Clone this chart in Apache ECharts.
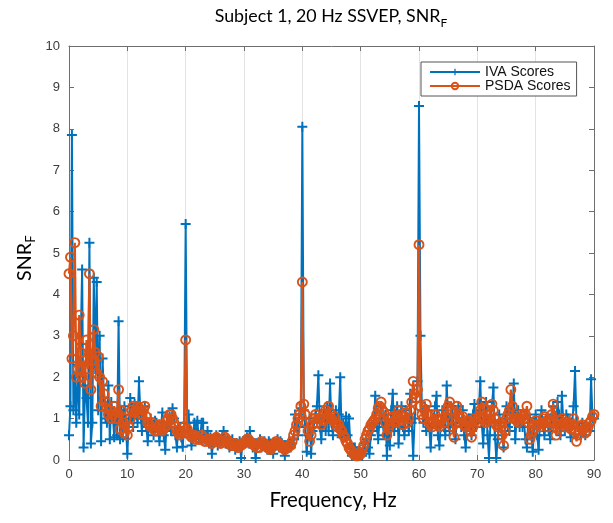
<!DOCTYPE html>
<html><head><meta charset="utf-8">
<script src="https://cdn.jsdelivr.net/npm/echarts@6/dist/echarts.min.js"></script>
<style>html,body{margin:0;padding:0;background:#fff}#c{width:613px;height:523px}</style>
</head><body><div id="c"></div>
<script>
// Frequency grid (Hz)
const freqStart = 0, freqStep = 0.25;
const xTickValues = [0,10,20,30,40,50,60,70,80,90];
const yTickValues = [0,1,2,3,4,5,6,7,8,9,10];
const seriesNames = ['IVA Scores', 'PSDA Scores'];

const ivaScores = [
  0.6,1.3,7.85,1.2,2.0,0.9,2.3,1.1,2.8,4.6,0.3,1.8,1.5,0.9,5.25,0.4,0.9,4.4,2.2,4.3,
  1.2,3.0,0.45,2.45,1.5,1.0,0.9,1.8,0.5,1.4,1.1,0.55,1.0,0.6,3.35,0.5,1.2,0.55,1.3,0.8,
  0.15,0.9,1.5,1.0,0.8,1.35,1.2,0.9,1.9,1.1,0.7,1.2,1.3,0.8,0.45,0.9,1.0,0.75,0.6,0.95,
  0.9,0.7,0.45,0.8,1.15,0.6,0.25,0.9,0.8,1.05,0.7,1.25,1.0,0.6,0.3,0.8,0.7,0.55,0.32,0.9,
  5.7,0.9,1.1,0.7,0.35,0.6,0.9,0.7,0.95,0.5,0.6,0.9,0.9,0.6,0.5,0.7,0.4,0.55,0.15,0.45,
  0.5,0.6,0.35,0.5,0.45,0.55,0.7,0.45,0.4,0.5,0.3,0.45,0.5,0.4,0.25,0.4,0.35,0.45,0.05,0.4,
  0.4,0.5,0.55,0.45,0.7,0.45,0.3,0.4,0.05,0.35,0.4,0.5,0.3,0.4,0.45,0.35,0.25,0.45,0.4,0.3,
  0.15,0.4,0.35,0.5,0.3,0.45,0.4,0.25,0.1,0.3,0.35,0.45,0.3,0.4,0.5,1.1,0.8,0.6,1.1,1.25,
  8.05,1.2,0.8,0.2,0.6,1.0,0.15,0.7,0.9,1.1,1.3,2.05,0.8,0.5,1.0,1.2,0.7,1.3,0.7,1.85,
  0.9,0.6,1.0,1.2,0.8,1.1,2.0,0.55,0.9,0.7,1.05,0.6,1.0,0.35,0.1,0.3,0.3,0.15,0.2,0.1,
  0.2,0.1,0.25,0.4,0.5,0.3,0.15,0.6,0.7,0.9,1.55,0.8,0.5,1.0,1.3,0.9,0.6,1.1,0.1,0.8,
  0.35,1.2,1.6,0.7,0.9,1.3,0.4,1.0,1.3,0.8,0.6,1.2,1.0,0.7,1.6,0.9,0.1,1.0,1.4,1.9,
  8.55,3.0,1.2,0.9,1.3,0.7,1.2,0.8,0.3,0.9,1.0,1.3,1.55,0.6,0.35,0.9,1.2,0.8,0.6,1.8,
  1.0,0.7,1.3,1.1,0.8,0.5,1.0,1.3,0.9,0.8,1.2,0.6,0.3,0.9,1.0,0.7,0.6,1.1,1.35,0.8,
  0.9,1.2,1.9,0.9,0.4,1.0,1.4,0.6,0.05,0.9,1.3,1.75,0.6,0.05,0.5,1.1,0.9,0.6,0.3,1.0,
  1.3,0.8,0.7,1.2,1.15,1.85,0.5,1.0,1.2,0.8,1.1,0.8,0.9,0.5,0.3,1.0,1.0,0.6,0.2,0.8,
  1.1,0.6,0.25,0.9,1.2,0.8,0.6,1.0,1.0,0.7,0.5,1.1,1.3,0.9,0.8,1.4,1.1,0.6,1.55,0.9,
  0.7,1.1,1.0,0.8,0.55,0.9,1.3,2.15,0.9,0.8,0.8,0.6,0.9,0.7,0.6,0.8,0.8,0.7,1.95,1.0,
  1.0
];
const psdaScores = [
  4.5,4.9,2.45,3.0,5.25,2.0,2.2,3.5,2.6,2.0,2.4,1.85,2.9,2.2,4.5,1.7,2.4,3.15,2.6,2.1,
  2.5,2.0,1.3,1.9,1.6,1.4,1.25,1.1,1.2,1.0,1.1,1.3,1.0,1.15,1.7,0.75,1.2,0.9,0.65,1.0,
  0.6,0.8,1.0,1.2,1.3,1.15,1.2,1.3,1.25,1.1,1.1,1.2,1.3,1.05,0.9,0.85,0.8,0.9,0.75,0.7,
  0.7,0.8,0.85,0.75,0.7,0.75,0.8,0.95,1.0,1.1,1.1,1.0,0.9,0.8,0.7,0.65,0.6,0.65,0.7,0.8,
  2.9,0.75,0.65,0.6,0.55,0.6,0.6,0.5,0.55,0.5,0.5,0.6,0.55,0.45,0.45,0.5,0.5,0.45,0.4,0.5,
  0.45,0.55,0.5,0.45,0.4,0.45,0.45,0.55,0.5,0.45,0.4,0.35,0.35,0.4,0.4,0.35,0.3,0.35,0.35,0.4,
  0.4,0.45,0.5,0.5,0.45,0.4,0.4,0.35,0.35,0.3,0.3,0.4,0.45,0.4,0.4,0.35,0.3,0.3,0.25,0.3,
  0.35,0.4,0.45,0.4,0.4,0.35,0.3,0.3,0.25,0.3,0.3,0.35,0.35,0.45,0.6,0.7,0.85,1.0,1.1,1.3,
  4.3,1.35,1.1,0.9,0.7,0.45,0.6,0.85,1.0,1.1,0.9,1.0,1.0,0.85,0.95,1.1,1.2,1.0,1.3,1.15,
  1.0,0.95,1.05,0.9,0.8,0.85,0.75,0.7,0.6,0.55,0.45,0.4,0.3,0.25,0.2,0.15,0.12,0.1,0.1,0.12,
  0.15,0.25,0.35,0.5,0.6,0.7,0.75,0.85,0.9,0.95,1.0,1.1,1.25,1.3,1.4,1.2,1.15,0.9,0.6,0.75,
  0.85,1.0,1.05,0.95,0.9,1.05,1.2,1.1,0.95,0.85,1.05,1.15,0.9,1.0,1.2,1.4,1.9,1.6,1.5,1.7,
  5.2,1.3,1.1,1.0,1.2,1.35,1.1,0.9,0.85,0.8,0.95,1.1,1.0,0.85,0.8,0.95,1.0,0.9,1.05,1.2,
  1.3,1.4,1.2,0.8,0.55,0.9,1.3,1.1,0.9,1.0,1.05,0.85,0.8,0.9,0.95,0.7,0.55,0.8,1.0,0.95,
  0.9,1.05,1.2,1.4,1.25,1.0,0.9,0.95,1.0,1.1,1.35,1.2,1.0,0.85,0.8,0.85,0.9,0.6,0.35,0.7,
  1.0,1.1,1.2,1.7,1.3,1.0,1.0,0.95,0.9,1.0,1.1,1.05,1.0,1.1,1.3,0.9,0.5,0.6,0.7,0.85,
  0.95,0.85,0.85,0.8,0.9,1.0,1.05,0.9,0.8,0.9,0.95,1.1,1.35,0.9,0.6,0.75,0.85,0.95,1.0,0.9,
  0.8,0.85,0.9,0.8,0.75,0.85,1.0,0.7,0.45,0.6,0.7,0.8,0.85,0.75,0.65,0.7,0.8,0.9,0.95,1.05,
  1.1
];

const freqs = ivaScores.map((_, i) => freqStart + i * freqStep);
const ivaData = freqs.map((f, i) => [f, ivaScores[i]]);
const psdaData = freqs.map((f, i) => [f, psdaScores[i]]);

const BLUE = '#0072BD', ORANGE = '#D95319';
const AXIS = '#6e6e6e', LABEL = '#3c3c3c';
const plusPath = 'path://M4,0H6V4H10V6H6V10H4V6H0V4H4Z';
const labelFont = 'Lato';

function measure(text, font) {
  const ctx = document.createElement('canvas').getContext('2d');
  ctx.font = font;
  return ctx.measureText(text).width;
}
function fitSize(text, targetWidth) {
  return Math.round(20 * targetWidth / measure(text, '20px ' + labelFont) * 10) / 10;
}

const titleMain = 'Subject 1, 20 Hz SSVEP, SNR';
const titleSize = fitSize(titleMain, 226);
const subSize = Math.round(titleSize * 0.65);
const wTitle = measure(titleMain, titleSize + 'px ' + labelFont);
const wTitleF = measure('F', subSize + 'px ' + labelFont);
const titleCenter = 331;
const titleLeft = titleCenter - (wTitle + wTitleF) / 2;

const xLabel = 'Frequency, Hz';
const xSize = fitSize(xLabel, 127);

const ySize = fitSize('SNR', 38);
const wSNR = measure('SNR', ySize + 'px ' + labelFont);
const yCenter = 262;

const chart = echarts.init(document.getElementById('c'), null, {renderer: 'canvas'});
const tickLabelStyle = {color: LABEL, fontSize: 13, fontFamily: 'Liberation Sans'};
chart.setOption({
  animation: false,
  backgroundColor: '#fff',
  grid: {left: 69, right: 19, top: 46, bottom: 63, containLabel: false},
  xAxis: [
    {type: 'value', min: xTickValues[0], max: xTickValues[xTickValues.length-1], interval: 10,
     axisLine: {show: true, onZero: false, lineStyle: {color: AXIS, width: 1}},
     axisTick: {show: true, inside: true, length: 5, lineStyle: {color: AXIS}},
     axisLabel: Object.assign({margin: 8}, tickLabelStyle),
     splitLine: {show: true, lineStyle: {color: '#e3e3e3', width: 1}}},
    {type: 'value', position: 'top', min: xTickValues[0], max: xTickValues[xTickValues.length-1], interval: 10,
     axisLine: {show: true, onZero: false, lineStyle: {color: AXIS, width: 1}},
     axisTick: {show: true, inside: true, length: 5, lineStyle: {color: AXIS}},
     axisLabel: {show: false}, splitLine: {show: false}}
  ],
  yAxis: [
    {type: 'value', min: yTickValues[0], max: yTickValues[yTickValues.length-1], interval: 1,
     axisLine: {show: true, onZero: false, lineStyle: {color: AXIS, width: 1}},
     axisTick: {show: true, inside: true, length: 5, lineStyle: {color: AXIS}},
     axisLabel: Object.assign({margin: 9}, tickLabelStyle),
     splitLine: {show: false}},
    {type: 'value', position: 'right', min: yTickValues[0], max: yTickValues[yTickValues.length-1], interval: 1,
     axisLine: {show: true, onZero: false, lineStyle: {color: AXIS, width: 1}},
     axisTick: {show: true, inside: true, length: 5, lineStyle: {color: AXIS}},
     axisLabel: {show: false}, splitLine: {show: false}}
  ],
  legend: {
    left: 421, top: 62, orient: 'vertical',
    itemWidth: 50, itemHeight: 8, itemGap: 0,
    padding: [3, 6, 3, 8],
    backgroundColor: '#fff', borderColor: '#555', borderWidth: 1, borderRadius: 0,
    textStyle: {fontSize: 14, lineHeight: 13, fontFamily: 'Liberation Sans', color: '#111'},
    data: seriesNames
  },
  series: [
    {name: seriesNames[0], type: 'line', data: ivaData, xAxisIndex: 0, yAxisIndex: 0,
     symbol: plusPath, symbolSize: 10, showAllSymbol: true,
     lineStyle: {color: BLUE, width: 2}, itemStyle: {color: BLUE}, z: 2},
    {name: seriesNames[1], type: 'line', data: psdaData, xAxisIndex: 0, yAxisIndex: 0,
     symbol: 'circle', symbolSize: 9, showAllSymbol: true,
     lineStyle: {color: ORANGE, width: 2.2},
     itemStyle: {color: 'rgba(255,255,255,0)', borderColor: ORANGE, borderWidth: 1.9}, z: 3}
  ],
  graphic: [
    {type: 'text', x: titleLeft, y: 16, style: {text: titleMain, font: titleSize + 'px ' + labelFont, fill: '#000', textAlign: 'left', textVerticalAlign: 'middle'}},
    {type: 'text', x: titleLeft + wTitle, y: 23, style: {text: 'F', font: subSize + 'px ' + labelFont, fill: '#000', textAlign: 'left', textVerticalAlign: 'middle'}},
    {type: 'text', x: 25, y: yCenter, rotation: Math.PI / 2, style: {text: 'SNR', font: ySize + 'px ' + labelFont, fill: '#000', textAlign: 'center', textVerticalAlign: 'middle'}},
    {type: 'text', x: 31, y: yCenter - wSNR / 2 - 4, rotation: Math.PI / 2, style: {text: 'F', font: Math.round(ySize*0.65) + 'px ' + labelFont, fill: '#000', textAlign: 'center', textVerticalAlign: 'middle'}},
    {type: 'text', x: 333, y: 500, style: {text: xLabel, font: xSize + 'px ' + labelFont, fill: '#000', textAlign: 'center', textVerticalAlign: 'middle'}}
  ]
});
</script>
</body></html>
